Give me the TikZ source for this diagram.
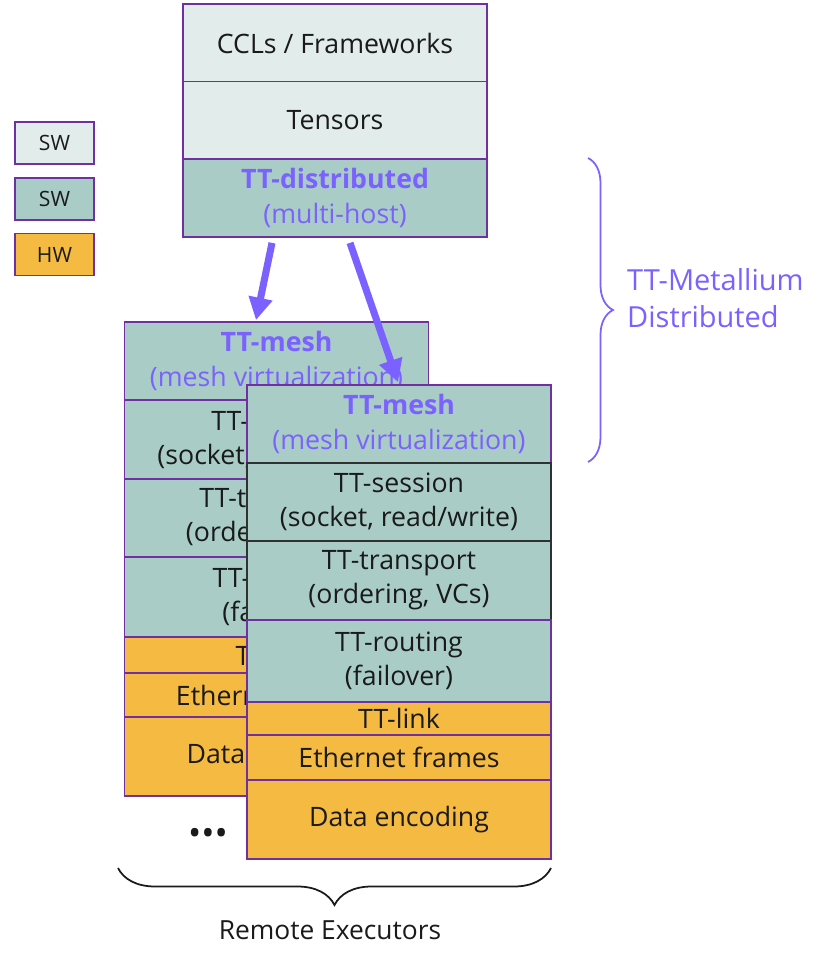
\documentclass[tikz,border=0pt]{standalone}
\usepackage{fontspec}
\setmainfont{Open Sans}
\usetikzlibrary{arrows.meta, positioning, decorations.pathreplacing}

\definecolor{swlight}{HTML}{E2ECEA}
\definecolor{swteal}{HTML}{A9CDC6}
\definecolor{hworange}{HTML}{F4BA41}
\definecolor{layerline}{HTML}{7030A0}
\definecolor{ttpurple}{HTML}{7B61FF}
\definecolor{inkdark}{HTML}{1A1A1A}

\tikzset{
  layer/.style={draw=layerline, line width=1pt, minimum width=6.08cm, align=center,
    text=inkdark, inner sep=2pt, font=\fontsize{15.2}{19.5}\selectfont},
  swtop/.style={layer, fill=swlight, minimum height=1.56cm},
  swmid/.style={layer, fill=swteal},
  hwbox/.style={layer, fill=hworange},
  legendbox/.style={draw=layerline, line width=1pt, minimum width=1.58cm, minimum height=0.84cm,
    text=inkdark, font=\fontsize{12}{14}\selectfont},
  bigarrow/.style={-{Triangle[length=0.45cm,width=0.46cm]}, line width=4pt, ttpurple},
}

\begin{document}
\begin{tikzpicture}
  \useasboundingbox (0,0) rectangle (16.6,-19.1);

  % legend
  \node[legendbox, fill=swlight] (lgsw1) at (1.09,-2.86) {SW};
  \node[legendbox, fill=swteal] (lgsw2) at (1.09,-3.98) {SW};
  \node[legendbox, fill=hworange] (lghw) at (1.09,-5.09) {HW};

  % host stack
  \node[swtop] (ccl) at (6.7,-0.86) {CCLs / Frameworks};
  \node[swtop] (tensors) at (6.7,-2.41) {Tensors};
  \node[swmid, minimum height=1.56cm, text=ttpurple] (dist) at (6.7,-3.96) {\textbf{TT-distributed}\\(multi-host)};

  % remote executor (back)
  \node[swmid, minimum height=1.56cm, text=ttpurple] (bmesh) at (5.53,-7.22) {\textbf{TT-mesh}\\(mesh virtualization)};
  \node[swmid, minimum height=1.58cm] (bsession) at (5.53,-8.79) {TT-session\\(socket, read/write)};
  \node[swmid, minimum height=1.56cm] (btransport) at (5.53,-10.36) {TT-transport\\(ordering, VCs)};
  \node[swmid, minimum height=1.6cm] (brouting) at (5.53,-11.94) {TT-routing\\(failover)};
  \node[hwbox, minimum height=0.72cm] (blink) at (5.53,-13.10) {TT-link};
  \node[hwbox, minimum height=0.88cm] (beth) at (5.53,-13.90) {Ethernet frames};
  \node[hwbox, minimum height=1.58cm] (bdata) at (5.53,-15.13) {Data encoding};

  % remote executor (front)
  \node[swmid, minimum height=1.56cm, text=ttpurple] (fmesh) at (7.98,-8.48) {\textbf{TT-mesh}\\(mesh virtualization)};
  \node[swmid, minimum height=1.56cm, draw=inkdark!90] (fsession) at (7.98,-10.04) {TT-session\\(socket, read/write)};
  \node[swmid, minimum height=1.58cm, draw=inkdark!90] (ftransport) at (7.98,-11.61) {TT-transport\\(ordering, VCs)};
  \node[swmid, minimum height=1.64cm] (frouting) at (7.98,-13.22) {TT-routing\\(failover)};
  \node[hwbox, minimum height=0.66cm] (flink) at (7.98,-14.37) {TT-link};
  \node[hwbox, minimum height=0.9cm] (feth) at (7.98,-15.15) {Ethernet frames};
  \node[hwbox, minimum height=1.58cm] (fdata) at (7.98,-16.39) {Data encoding};

  \node[text=inkdark, font=\fontsize{20}{20}\selectfont] (more) at (4.16,-16.74) {\textbullet\textbullet\textbullet};

  % arrows
  \draw[bigarrow] ([xshift=-1.26cm,yshift=-0.1cm]dist.south) -- ([xshift=-0.41cm,yshift=0.02cm]bmesh.north);
  \draw[bigarrow] ([xshift=0.3cm,yshift=-0.1cm]dist.south) -- ([xshift=-0.02cm,yshift=0.04cm]fmesh.north);

  % braces
  \coordinate (mtop) at (11.76,-3.16);
  \coordinate (mbot) at (11.76,-9.24);
  \draw[ttpurple, line width=1pt, decorate, decoration={brace, amplitude=0.5cm}] (mtop) -- (mbot);
  \node[anchor=west, align=left, text=ttpurple, font=\fontsize{16.5}{21}\selectfont] (metal) at (12.42,-5.96) {TT-Metallium\\Distributed};

  \coordinate (rright) at (11.02,-17.36);
  \coordinate (rleft) at (2.36,-17.36);
  \draw[inkdark, line width=1pt, decorate, decoration={brace, amplitude=0.74cm}] (rright) -- (rleft);
  \node[text=inkdark, font=\fontsize{15}{18}\selectfont] (remote) at (6.6,-18.6) {Remote Executors};
\end{tikzpicture}
\end{document}
